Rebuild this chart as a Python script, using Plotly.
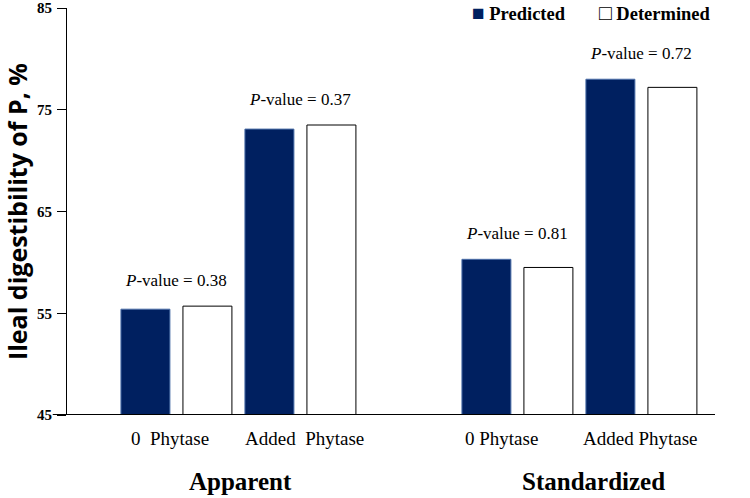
import plotly.graph_objects as go

# Data
groups = ["Apparent", "Standardized"]
treatments = ["0  Phytase", "Added  Phytase", "0 Phytase", "Added Phytase"]
x_pos = [0, 1, 2.75, 3.75]
predicted = [55.4, 73.1, 60.3, 78.0]
determined = [55.7, 73.5, 59.5, 77.2]
p_values = ["0.38", "0.37", "0.81", "0.72"]
group_centers = [0.52, 3.37]
y_ticks = [45, 55, 65, 75, 85]
label_shift = [-6, 5, -15, 0]
y_title = "Ileal digestibility of P, %"

NAVY = "#002060"
bar_w = 0.395
SERIF = "Liberation Serif"

fig = go.Figure()
fig.add_trace(go.Bar(
    x=x_pos, y=[v - 45 for v in predicted], base=45, name="Predicted",
    width=bar_w, offset=-0.444,
    marker=dict(color=NAVY, line=dict(color="#4a6ea8", width=1)),
))
fig.add_trace(go.Bar(
    x=x_pos, y=[v - 45 for v in determined], base=45, name="Determined",
    width=bar_w, offset=0.056,
    marker=dict(color="white", line=dict(color="black", width=1)),
))

for xp, p, a, b in zip(x_pos, p_values, predicted, determined):
    fig.add_annotation(
        x=xp, y=max(a, b), text="<i>P</i>-value = " + p,
        showarrow=False, yanchor="middle", yshift=26,
        font=dict(family=SERIF, size=17, color="black"),
    )

# treatment labels
for xp, t, s in zip(x_pos, treatments, label_shift):
    fig.add_annotation(
        x=xp, y=45, text=t, showarrow=False, yanchor="middle", yshift=-23, xshift=s,
        font=dict(family=SERIF, size=19, color="black"),
    )

for gc, g in zip(group_centers, groups):
    fig.add_annotation(
        x=gc, xref="x", y=45, yref="y", text="<b>" + g + "</b>",
        showarrow=False, yanchor="middle", yshift=-66,
        font=dict(family=SERIF, size=25, color="black"),
    )

# y-axis title
fig.add_annotation(xref="paper", yref="paper", x=-0.0772, y=0.501, xanchor="center", yanchor="middle",
                   text="<b>" + y_title + "</b>", textangle=-90, showarrow=False,
                   font=dict(family="Open Sans", size=25, color="black"))

# legend drawn as text
fig.add_annotation(xref="paper", yref="paper", x=0.622, y=0.987, xanchor="left", yanchor="middle",
                   text="<span style='color:%s;font-size:21px'>■</span> <b>Predicted</b>" % NAVY,
                   showarrow=False, font=dict(family=SERIF, size=18.5, color="black"))
fig.add_annotation(xref="paper", yref="paper", x=0.818, y=0.987, xanchor="left", yanchor="middle",
                   text="<span style='font-size:21px'>□</span> <b>Determined</b>", showarrow=False,
                   font=dict(family=SERIF, size=18.5, color="black"))

# baseline extending slightly left of y axis
fig.add_shape(type="line", xref="paper", yref="y", x0=-0.022, x1=1, y0=45, y1=45,
              line=dict(color="black", width=2))

fig.update_layout(
    width=750, height=498,
    margin=dict(l=67, r=35, t=8, b=83, autoexpand=False),
    plot_bgcolor="white", paper_bgcolor="white",
    barmode="overlay",
    showlegend=False,
    xaxis=dict(range=[-0.879, 4.347], showticklabels=False,
               showline=False, showgrid=False, zeroline=False, ticks=""),
    yaxis=dict(range=[45, 85], tickvals=y_ticks, ticktext=[f"<b>{t}</b>" for t in y_ticks],
               showline=True, linecolor="black", linewidth=1,
               ticks="outside", ticklen=9, tickcolor="black",
               showgrid=False, zeroline=False, ticklabelstandoff=2,
               tickfont=dict(family=SERIF, size=15, color="black")),
)

fig.write_html("out.html", config={"displayModeBar": False},
               post_script="document.body.style.margin='0';document.body.style.padding='0';")
